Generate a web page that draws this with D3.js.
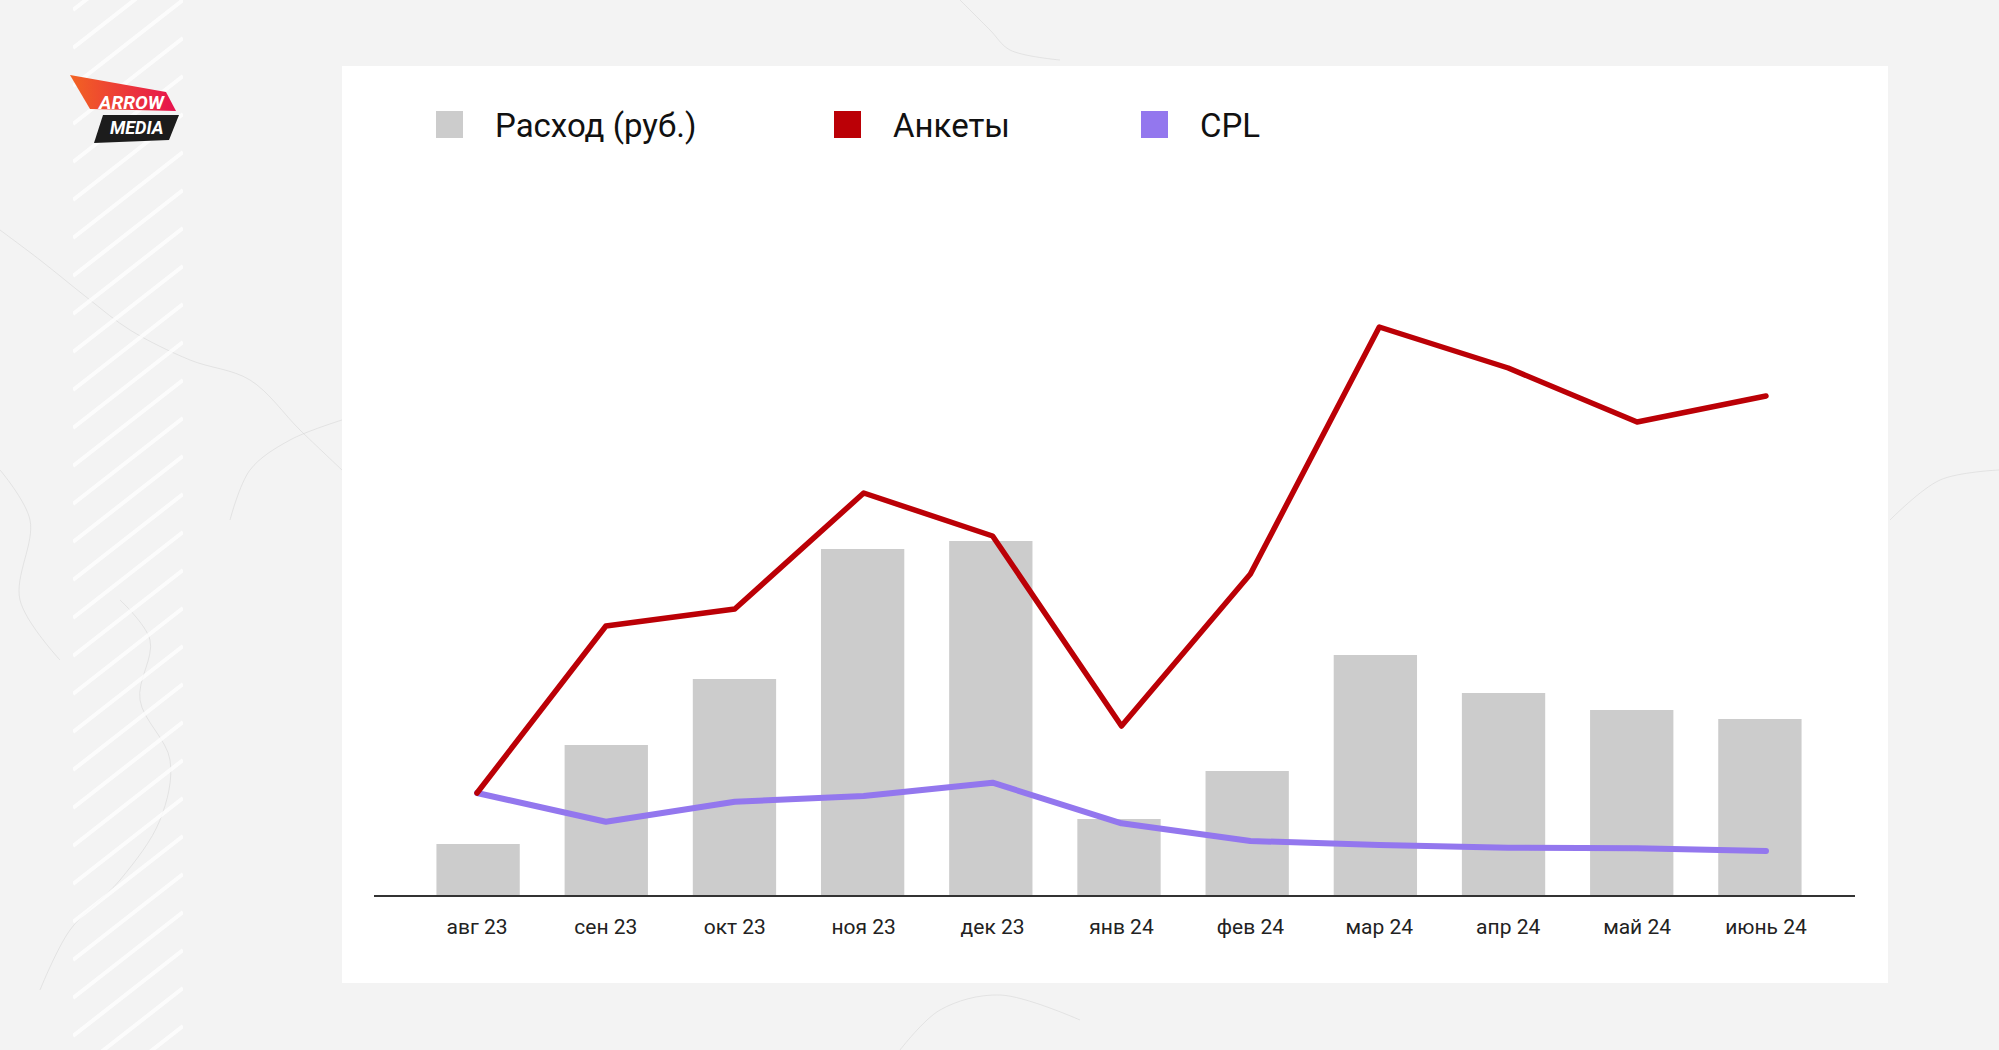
<!DOCTYPE html>
<html lang="ru">

<head>
    <meta charset="utf-8">
    <title>Расход, анкеты и CPL</title>
    <script type="text/javascript" src="https://cdn.jsdelivr.net/npm/d3@7"></script>
    <style type="text/css">
    body {
        margin: 0;
        background: #f1f1f1;
    }

    svg {
        display: block;
        font-family: Roboto, "Noto Sans", sans-serif;
    }

    .legend text {
        font-size: 33px;
        fill: #111;
    }

    .month {
        font-size: 21px;
        fill: #222;
        text-anchor: middle;
    }
    </style>
</head>

<body>
    <script type="text/javascript">
    //data
    var months = ['авг 23', 'сен 23', 'окт 23', 'ноя 23', 'дек 23', 'янв 24', 'фев 24', 'мар 24', 'апр 24', 'май 24', 'июнь 24'];
    var spend = [52000, 151000, 217000, 347000, 355000, 77000, 125000, 241000, 203000, 186000, 177000];
    var leads = [103, 270, 287, 403, 360, 170, 322, 569, 528, 474, 500];
    var cpl = [1030, 743, 943, 1000, 1133, 727, 550, 510, 483, 477, 450];

    var seriesNames = ['Расход (руб.)', 'Анкеты', 'CPL'];
    var seriesColors = ['#cccccc', '#bb0006', '#9377ee'];

    //Width and height
    var w = 1999;
    var h = 1050;

    var baseY = 896;

    var svg = d3.select('body')
        .append('svg')
        .attr('width', w)
        .attr('height', h);

    //marble-ish background
    svg.append('rect')
        .attr('width', w)
        .attr('height', h)
        .attr('fill', '#f3f3f3');

    var veins = [
        [[0, 230], [40, 260], [90, 300], [130, 330], [190, 360], [250, 380], [300, 430], [342, 470]],
        [[120, 600], [150, 640], [140, 700], [170, 760], [160, 820], [120, 880], [70, 930], [40, 990]],
        [[230, 520], [250, 470], [290, 440], [342, 420]],
        [[0, 470], [30, 520], [20, 600], [60, 660]],
        [[900, 1050], [940, 1010], [1000, 995], [1080, 1020]],
        [[1890, 520], [1940, 480], [1999, 470]],
        [[960, 0], [990, 30], [1010, 50], [1060, 60]]
    ];

    svg.selectAll('.vein')
        .data(veins)
        .enter()
        .append('path')
        .attr('class', 'vein')
        .attr('d', d3.line().curve(d3.curveCatmullRom))
        .attr('fill', 'none')
        .attr('stroke', '#cfcfcf')
        .attr('stroke-width', 1)
        .attr('opacity', 0.45);

    //diagonal white stripes on the left
    var stripes = svg.append('g');
    stripes.append('clipPath')
        .attr('id', 'stripeClip')
        .append('rect')
        .attr('x', 73)
        .attr('y', 0)
        .attr('width', 110)
        .attr('height', h);

    var stripeRows = d3.range(-4, 30);
    stripes.append('g')
        .attr('clip-path', 'url(#stripeClip)')
        .selectAll('line')
        .data(stripeRows)
        .enter()
        .append('line')
        .attr('x1', 73)
        .attr('y1', function(d) { return d * 38 + 86; })
        .attr('x2', 183)
        .attr('y2', function(d) { return d * 38; })
        .attr('stroke', '#ffffff')
        .attr('stroke-width', 4)
        .attr('opacity', 0.8);

    //logo
    var logo = svg.append('g');
    var grad = logo.append('linearGradient')
        .attr('id', 'logoGrad')
        .attr('x1', '0%')
        .attr('x2', '100%');
    grad.append('stop').attr('offset', '0%').attr('stop-color', '#f26322');
    grad.append('stop').attr('offset', '100%').attr('stop-color', '#e6124e');

    logo.append('polygon')
        .attr('points', '70,75 166,92 176,111 90,109')
        .attr('fill', 'url(#logoGrad)');
    logo.append('polygon')
        .attr('points', '103,115 179,115 169,140 94,143')
        .attr('fill', '#1c1c1c');
    logo.append('text')
        .attr('x', 99)
        .attr('y', 109)
        .attr('font-size', 19)
        .attr('font-weight', 'bold')
        .attr('font-style', 'italic')
        .attr('fill', '#fff')
        .text('ARROW');
    logo.append('text')
        .attr('x', 110)
        .attr('y', 134)
        .attr('font-size', 18)
        .attr('font-weight', 'bold')
        .attr('font-style', 'italic')
        .attr('fill', '#fff')
        .text('MEDIA');

    //white card
    svg.append('rect')
        .attr('x', 342)
        .attr('y', 66)
        .attr('width', 1546)
        .attr('height', 917)
        .attr('fill', '#ffffff');

    //scales
    var x = d3.scaleBand()
        .domain(months)
        .range([414, 1824])
        .paddingInner(0.35)
        .paddingOuter(0.175);

    //lines and labels sit on a slightly wider grid than the bars
    var xp = d3.scalePoint()
        .domain(months)
        .range([477, 1766]);

    var ySpend = d3.scaleLinear()
        .domain([0, 700000])
        .range([baseY, 196]);

    var yLeads = d3.scaleLinear()
        .domain([0, 700])
        .range([baseY, 196]);

    var yCpl = d3.scaleLinear()
        .domain([0, 7000])
        .range([baseY, 196]);

    var cx = function(d, i) {
        return xp(months[i]);
    };

    //bars
    svg.append('g')
        .selectAll('rect')
        .data(spend)
        .enter()
        .append('rect')
        .attr('x', function(d, i) { return x(months[i]); })
        .attr('y', function(d) { return ySpend(d); })
        .attr('width', x.bandwidth())
        .attr('height', function(d) { return baseY - ySpend(d); })
        .attr('fill', seriesColors[0]);

    //baseline
    svg.append('line')
        .attr('x1', 374)
        .attr('x2', 1855)
        .attr('y1', baseY)
        .attr('y2', baseY)
        .attr('stroke', '#333')
        .attr('stroke-width', 2);

    //lines
    var lineLeads = d3.line()
        .x(cx)
        .y(function(d) { return yLeads(d); });

    var lineCpl = d3.line()
        .x(cx)
        .y(function(d) { return yCpl(d); });

    svg.append('path')
        .datum(cpl)
        .attr('d', lineCpl)
        .attr('fill', 'none')
        .attr('stroke', seriesColors[2])
        .attr('stroke-width', 6)
        .attr('stroke-linejoin', 'round')
        .attr('stroke-linecap', 'round');

    svg.append('path')
        .datum(leads)
        .attr('d', lineLeads)
        .attr('fill', 'none')
        .attr('stroke', seriesColors[1])
        .attr('stroke-width', 5.5)
        .attr('stroke-linejoin', 'round')
        .attr('stroke-linecap', 'round');

    //month labels
    svg.append('g')
        .selectAll('text')
        .data(months)
        .enter()
        .append('text')
        .attr('class', 'month')
        .attr('x', function(d) { return xp(d); })
        .attr('y', 934)
        .text(function(d) { return d; });

    //legend
    var legendX = [436, 834, 1141];
    var legend = svg.append('g')
        .attr('class', 'legend')
        .selectAll('g')
        .data(seriesNames)
        .enter()
        .append('g')
        .attr('transform', function(d, i) { return 'translate(' + legendX[i] + ',111)'; });

    legend.append('rect')
        .attr('width', 27)
        .attr('height', 27)
        .attr('fill', function(d, i) { return seriesColors[i]; });

    legend.append('text')
        .attr('x', 59)
        .attr('y', 26)
        .text(function(d) { return d; });
    </script>
</body>

</html>
